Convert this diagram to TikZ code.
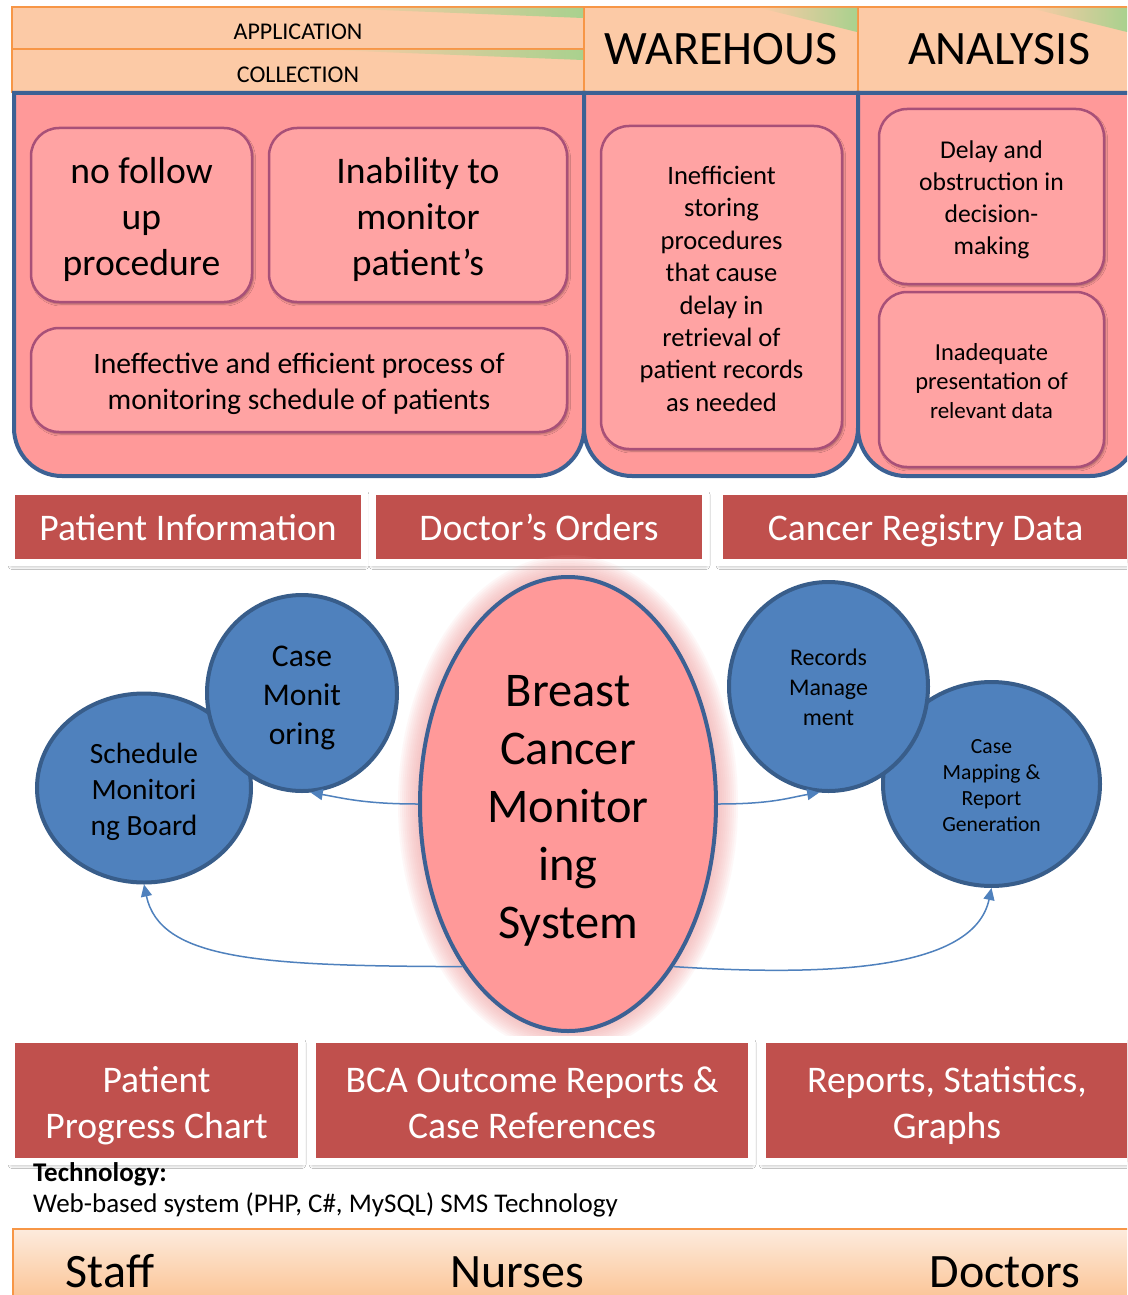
\documentclass[tikz,border=0pt]{standalone}
\usepackage{fontspec}
\setmainfont{Carlito}
\usetikzlibrary{shapes.geometric, arrows.meta, shadows.blur}

\definecolor{peach}{HTML}{FCCAA6}
\definecolor{orangeline}{HTML}{F79646}
\definecolor{leafgreen}{HTML}{A9D18E}
\definecolor{panelpink}{HTML}{FF9999}
\definecolor{panelblue}{HTML}{3C6194}
\definecolor{issuepink}{HTML}{FFA3A3}
\definecolor{issueedge}{HTML}{A85078}
\definecolor{boxred}{HTML}{C0504D}
\definecolor{bubbleblue}{HTML}{4F81BD}
\definecolor{bubbleedge}{HTML}{385D8A}
\definecolor{glowpink}{HTML}{F4A0A0}
\definecolor{barlight}{HTML}{FDEBDD}
\definecolor{bardark}{HTML}{FBBF8C}

% line box as in a word processor
\newcommand{\topstrut}{\rule{0pt}{1.05em}}
\newcommand{\botstrut}{\rule[-0.269em]{0pt}{0pt}}

\begin{document}
\begin{tikzpicture}[
    x=1pt, y=-1pt,
    head/.style={draw=orangeline, line width=1.5pt, fill=peach, inner sep=0pt},
    panel/.style={draw=panelblue, line width=4pt, fill=panelpink},
    issue/.style={draw=issueedge, line width=2.5pt, fill=issuepink, rounded corners=28pt, align=center, inner sep=0pt,
        blur shadow={shadow xshift=1.5pt, shadow yshift=-2pt, shadow blur steps=4, shadow opacity=35}},
    flowbox/.style={draw=white, line width=7pt, fill=boxred, text=white, align=center, inner sep=0pt,
        font=\fontsize{37.6}{46}\selectfont,
        blur shadow={shadow xshift=0.5pt, shadow yshift=-3pt, shadow blur radius=4pt, shadow blur steps=6, shadow opacity=40}},
    bubble/.style={ellipse, draw=bubbleedge, line width=4pt, fill=bubbleblue, align=center, inner sep=0pt},
    arrow/.style={-{Triangle[length=12pt, width=11pt]}, line width=1.5pt, draw=bubbleblue}
]
    \clip (0,0) rectangle (1127,1295);
    \fill[white] (0,0) rectangle (1127,1295);

    % header row
    \node[head, minimum width=572, minimum height=42, text height=23pt, text depth=0pt, font=\fontsize{24}{28}\selectfont] (appl) at (298,28) {APPLICATION};
    \node[head, minimum width=572, minimum height=43, text height=24pt, text depth=0pt, font=\fontsize{24}{28}\selectfont] (coll) at (298,70.5) {COLLECTION};
    \node[head, minimum width=274, minimum height=85, font=\fontsize{48}{52}\selectfont] (ware) at (721,49.5) {WAREHOUS};
    \node[head, minimum width=282, minimum height=85, font=\fontsize{48}{52}\selectfont] (anal) at (999,49.5) {ANALYSIS};
    \shade[left color=peach, right color=leafgreen] (330,8) -- (583,8) -- (583,18) -- cycle;
    \shade[left color=peach, right color=leafgreen] (330,50) -- (583,50) -- (583,60) -- cycle;
    \shade[left color=peach, right color=leafgreen] (760,8) -- (857,8) -- (857,32) -- cycle;
    \shade[left color=peach, right color=leafgreen] (1030,8) -- (1127,8) -- (1127,32) -- cycle;

    % blue panels
    \draw[panel] (14,93) -- (14,428) arc[start angle=180, end angle=90, radius=48] -- (536,476) arc[start angle=90, end angle=0, radius=48] -- (584,93) -- cycle;
    \draw[panel] (584,93) -- (584,428) arc[start angle=180, end angle=90, radius=48] -- (810,476) arc[start angle=90, end angle=0, radius=48] -- (858,93) -- cycle;
    \draw[panel] (858,93) -- (858,428) arc[start angle=180, end angle=90, radius=48] -- (1090,476) arc[start angle=90, end angle=0, radius=48] -- (1138,93) -- cycle;

    % problems
    \node[issue, minimum width=221, minimum height=174, font=\fontsize{37.6}{46}\selectfont] (nofollow) at (141.5,215) {\topstrut no follow\\up\\procedure\botstrut};
    \node[issue, minimum width=298, minimum height=174, font=\fontsize{37.6}{46}\selectfont] (inability) at (418,215) {\topstrut Inability to\\monitor\\patient’s\botstrut};
    \node[issue, minimum width=536, minimum height=104, font=\fontsize{29.6}{36}\selectfont] (ineffective) at (299,380) {\topstrut Ineffective and efficient process of\\monitoring schedule of patients\botstrut};
    \node[issue, minimum width=241, minimum height=323, font=\fontsize{26.6}{32.4}\selectfont] (storing) at (721.5,287.5) {\topstrut Inefficient\\storing\\procedures\\that cause\\delay in\\retrieval of\\patient records\\as needed\botstrut};
    \node[issue, minimum width=225, minimum height=175, font=\fontsize{25.6}{32.3}\selectfont] (delay) at (991.5,196.5) {\topstrut Delay and\\obstruction in\\decision-\\making\botstrut};
    \node[issue, minimum width=225, minimum height=175, font=\fontsize{24.5}{29}\selectfont] (inadequate) at (991.5,379.5) {\topstrut Inadequate\\presentation of\\{\fontsize{23}{29}\selectfont relevant data}\botstrut};

    % inputs
    \node[flowbox, minimum width=353, minimum height=71, text height=35pt, text depth=8pt] (patinfo) at (188,527) {Patient Information};
    \node[flowbox, minimum width=333, minimum height=71, text height=35pt, text depth=8pt] (orders) at (539,527) {Doctor’s Orders};
    \node[flowbox, minimum width=412, minimum height=71, text height=35pt, text depth=8pt] (registry) at (925.5,527) {Cancer Registry Data};

    % system and modules
    \coordinate (mid) at (568,804);
    \foreach \g in {1,...,10}
        \fill[glowpink, opacity=0.08] (mid) ellipse [x radius=150+2*\g, y radius=229+2*\g];
    \node[ellipse, draw=panelblue, line width=4pt, fill=panelpink, minimum width=296, minimum height=454, inner sep=0pt, align=center,
        font=\fontsize{48.4}{58}\selectfont] (core) at (mid) {\topstrut Breast\\Cancer\\Monitor\\ing\\System\botstrut};

    \node[bubble, minimum width=214, minimum height=189, font=\fontsize{29.4}{36}\selectfont] (schedule) at (144,788) {\topstrut Schedule\\Monitori\\ng Board\botstrut};
    \node[bubble, minimum width=190, minimum height=196, font=\fontsize{31.6}{39}\selectfont] (casemon) at (302,693) {\topstrut Case\\Monit\\oring\botstrut};
    \node[bubble, minimum width=217, minimum height=204, font=\fontsize{21.6}{26}\selectfont] (casemap) at (991.5,784) {\topstrut Case\\Mapping \&\\Report\\Generation\botstrut};
    \node[bubble, minimum width=199, minimum height=209, font=\fontsize{23.9}{30}\selectfont] (records) at (828.5,686.5) {\topstrut Records\\Manage\\ment\botstrut};

    \draw[arrow] (core.west) .. controls +(-55,0) and +(30,5) .. (casemon.-85);
    \draw[arrow] (core.east) .. controls +(55,0) and +(-30,5) .. (records.-95);
    \draw[arrow] (core.-123) .. controls (260,966) and (160,960) .. (schedule.south);
    \draw[arrow] (core.-57) .. controls (850,978) and (975,965) .. (casemap.south);

    % outputs
    \node[flowbox, minimum width=290, minimum height=122] (progress) at (156.5,1100.5) {\topstrut Patient\\Progress Chart\botstrut};
    \node[flowbox, minimum width=439, minimum height=122] (outcome) at (532,1100.5) {\topstrut BCA Outcome Reports \&\\Case References\botstrut};
    \node[flowbox, minimum width=369, minimum height=122] (stats) at (947,1100.5) {\topstrut Reports, Statistics,\\Graphs\botstrut};

    % technology
    \node[anchor=west, inner sep=0pt, font=\fontsize{27}{32}\selectfont\bfseries] (techhead) at (33,1174) {Technology:};
    \node[anchor=west, inner sep=0pt, font=\fontsize{27}{32}\selectfont] (techtext) at (33,1205) {Web-based system (PHP, C\#, MySQL) SMS Technology};

    % users
    \node[draw=orangeline, line width=1.5pt, top color=barlight, bottom color=bardark, minimum width=1130, minimum height=80, inner sep=0pt, anchor=north west] (staffbar) at (12,1228) {};
    \node[anchor=base, inner sep=0pt, font=\fontsize{48}{52}\selectfont] (staff) at (110,1287) {Staff};
    \node[anchor=base, inner sep=0pt, font=\fontsize{48}{52}\selectfont] (nurses) at (517,1287) {Nurses};
    \node[anchor=base, inner sep=0pt, font=\fontsize{48}{52}\selectfont] (doctors) at (1005,1287) {Doctors};
\end{tikzpicture}
\end{document}
